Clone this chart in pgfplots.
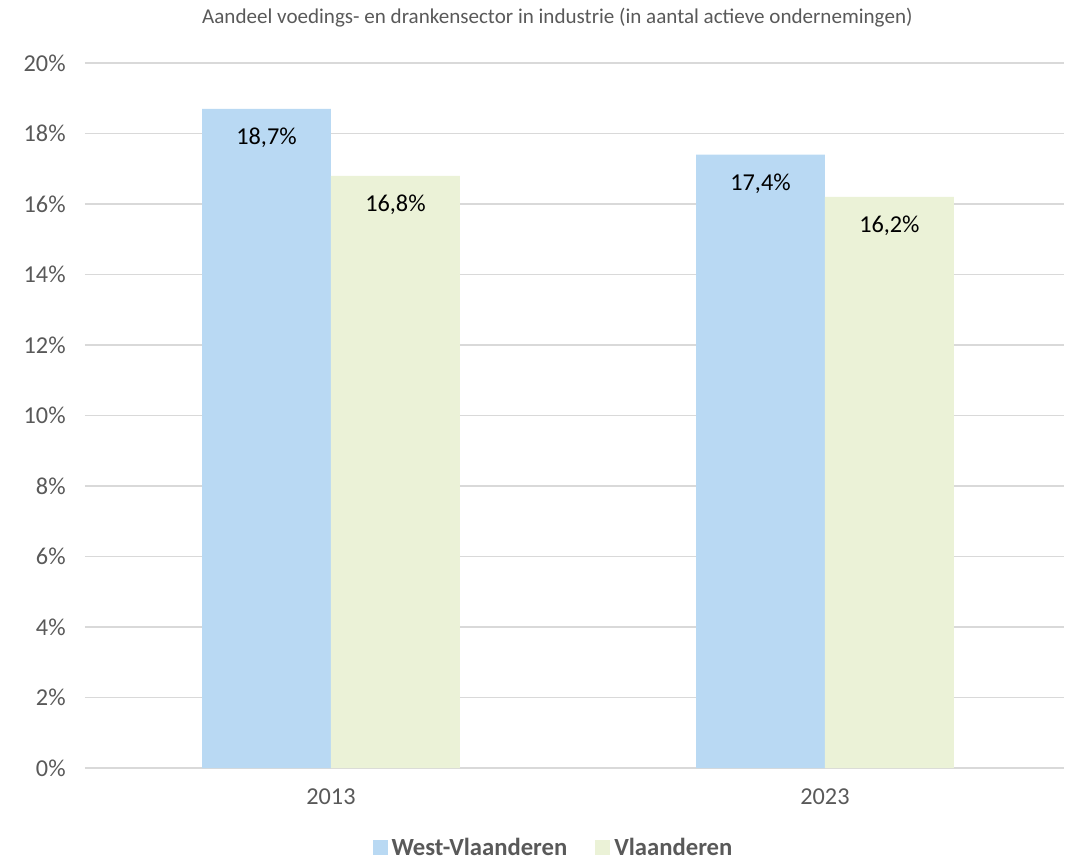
\documentclass[border=0pt]{standalone}
\usepackage{pgfplots}
\pgfplotsset{compat=1.18}
\usepackage{fontspec}
\setmainfont{Carlito}
\definecolor{wvl}{HTML}{B9D9F3}
\definecolor{vl}{HTML}{EBF2D7}
\definecolor{txt}{HTML}{595959}
\definecolor{gridc}{HTML}{D9D9D9}
\begin{document}
\begin{tikzpicture}[x=0.75pt,y=0.75pt]
\begin{axis}[
  scale only axis, clip=false,
  width=734.25pt, height=528.75pt,
  xmin=-0.498, xmax=1.484,
  ymin=0, ymax=20,
  xtick={0,1}, xticklabels={2013,2023},
  ytick={0,2,...,20},
  yticklabel={\pgfmathprintnumber{\tick}\%},
  /pgf/number format/assume math mode=true,
  major tick length=0pt,
  axis line style={draw=none},
  ymajorgrids, grid style={gridc, line width=0.9pt},
  ticklabel style={font=\fontsize{18.2}{20}\selectfont, text=txt},
  yticklabel style={xshift=-11pt},
  xticklabel style={yshift=-12pt},
  ybar, bar width=0.261,
  enlarge x limits=false,
  nodes near coords={\pgfmathprintnumber[use comma,fixed,fixed zerofill,precision=1]{\pgfplotspointmeta}\%},
  every node near coord/.append style={font=\fontsize{18.2}{20}\selectfont, text=black, anchor=center, yshift=-21.75pt},
  legend style={at={(rel axis cs:0.4795,-0.1135)}, anchor=center, draw=none, fill=none,
    legend columns=2, font=\fontsize{18.5}{20}\selectfont\bfseries, text=txt, inner sep=0pt,
    nodes={inner ysep=0.5pt, inner xsep=3pt},
    /tikz/every even column/.append style={column sep=18pt},
    /tikz/every odd column/.append style={column sep=0pt}},
  legend image code/.code={\fill[#1] (0pt,-5.4pt) rectangle (11.25pt,5.85pt);},
]
\addplot[fill=wvl, draw=none, bar shift=-0.1305] coordinates {(0,18.7) (1,17.4)};
\addplot[fill=vl, draw=none, bar shift=0.1305] coordinates {(0,16.8) (1,16.2)};
\legend{West-Vlaanderen, Vlaanderen}
\node[font=\fontsize{15.8}{17}\selectfont, text=txt] at (rel axis cs:0.4825,1.064) {Aandeel voedings- en drankensector in industrie (in aantal actieve ondernemingen)};
\end{axis}
\pgfresetboundingbox
\useasboundingbox (-85,-93) rectangle (981,768);
\end{tikzpicture}
\end{document}
